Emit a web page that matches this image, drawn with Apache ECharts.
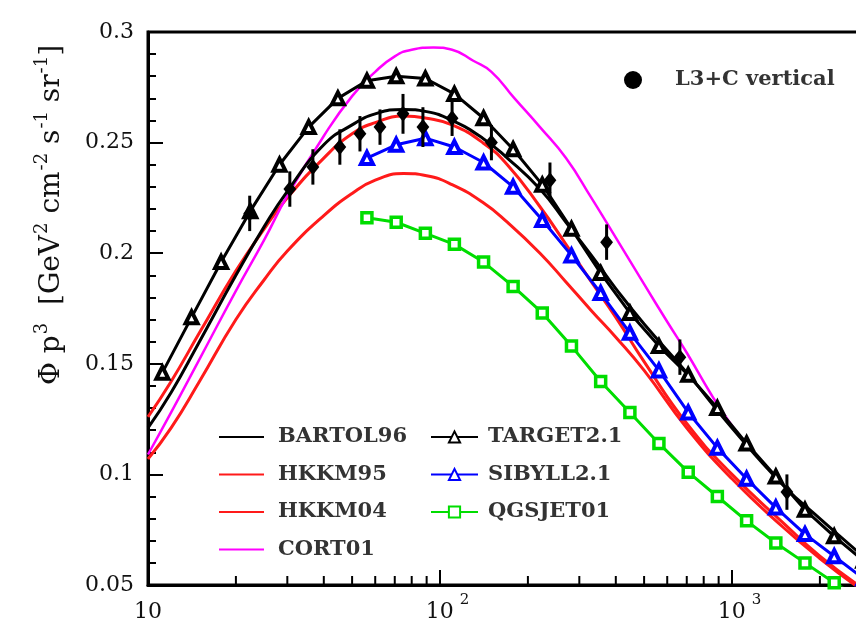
<!DOCTYPE html>
<html>
<head>
<meta charset="utf-8">
<script src="https://cdn.jsdelivr.net/npm/echarts@6/dist/echarts.min.js"></script>
<style>
  html, body { margin: 0; padding: 0; background: #fff; }
  #chart { width: 856px; height: 641px; }
</style>
</head>
<body>
<div id="chart"></div>
<script>
// Vertical muon flux times p^3 versus momentum: model predictions and L3+C data.

// Momentum (GeV) of the calculations sampled on a smooth grid
const pSmooth  = [10, 12, 15, 20, 25, 30, 40, 50, 60, 75, 90, 110, 140, 170, 220, 270, 330, 400, 500, 700, 1000, 1500, 2000, 2700];
const bartol96 = [0.121, 0.137, 0.160, 0.190, 0.212, 0.228, 0.249, 0.258, 0.263, 0.265, 0.264, 0.260, 0.252, 0.243, 0.229, 0.214, 0.199, 0.184, 0.168, 0.146, 0.121, 0.095, 0.080, 0.065];
const hkkm95   = [0.126, 0.142, 0.164, 0.192, 0.211, 0.225, 0.243, 0.254, 0.259, 0.262, 0.261, 0.258, 0.250, 0.240, 0.221, 0.204, 0.187, 0.171, 0.151, 0.123, 0.100, 0.078, 0.063, 0.050];
const hkkm04   = [0.107, 0.121, 0.142, 0.170, 0.188, 0.201, 0.217, 0.227, 0.233, 0.236, 0.235, 0.231, 0.223, 0.214, 0.200, 0.187, 0.174, 0.162, 0.147, 0.121, 0.098, 0.076, 0.062, 0.049];
const pCort    = [10, 12, 15, 20, 25, 30, 40, 50, 60, 70, 80, 95, 110, 130, 150, 180, 220, 270, 330, 400, 500, 600, 700, 850, 1000, 1150];
const cort01   = [0.109, 0.128, 0.152, 0.183, 0.206, 0.226, 0.253, 0.271, 0.282, 0.289, 0.292, 0.293, 0.292, 0.287, 0.282, 0.270, 0.257, 0.243, 0.225, 0.207, 0.186, 0.169, 0.155, 0.136, 0.122, 0.112];

// Monte Carlo points (markers)
const pTarget  = [11.2, 14.1, 17.8, 22.4, 28.2, 35.5, 44.7, 56.2, 70.8, 89.1, 112, 141, 178, 224, 282, 355, 447, 562, 708, 891, 1122, 1413, 1778, 2239, 2818];
const target21 = [0.146, 0.171, 0.196, 0.219, 0.240, 0.257, 0.270, 0.278, 0.280, 0.279, 0.272, 0.261, 0.247, 0.231, 0.211, 0.191, 0.173, 0.158, 0.145, 0.130, 0.114, 0.099, 0.084, 0.072, 0.061];
const pMC      = [56.2, 70.8, 89.1, 112, 141, 178, 224, 282, 355, 447, 562, 708, 891, 1122, 1413, 1778, 2239, 2818];
const sibyll21 = [0.243, 0.249, 0.252, 0.248, 0.241, 0.230, 0.215, 0.199, 0.182, 0.164, 0.147, 0.128, 0.112, 0.098, 0.085, 0.073, 0.063, 0.053];
const qgsjet01 = [0.216, 0.214, 0.209, 0.204, 0.196, 0.185, 0.173, 0.158, 0.142, 0.128, 0.114, 0.101, 0.090, 0.079, 0.069, 0.060, 0.051, 0.043];

// L3+C vertical measurement: momentum, flux*p^3, error
const pData    = [22.3, 30.6, 36.7, 45.4, 53.2, 62.3, 74.7, 87.4, 110, 150, 238, 372, 663, 1542];
const fluxData = [0.218, 0.229, 0.239, 0.248, 0.254, 0.257, 0.263, 0.257, 0.261, 0.250, 0.233, 0.205, 0.153, 0.092];
const errData  = [0.008, 0.008, 0.008, 0.008, 0.008, 0.008, 0.009, 0.009, 0.008, 0.008, 0.008, 0.008, 0.008, 0.008];

// Axis ticks
const xMajor = [10, 100, 1000];
const xMinor = [20, 30, 40, 50, 60, 70, 80, 90, 200, 300, 400, 500, 600, 700, 800, 900, 2000, 3000];
const yMin = 0.05, yMax = 0.3, yStep = 0.05;

const FONT = '"DejaVu Serif", "Liberation Serif", serif';
const zip = (xs, ys) => xs.map((x, i) => [x, ys[i]]);

function lineSeries(name, xs, ys, color, extra) {
  return Object.assign({
    name, type: 'line', data: zip(xs, ys),
    symbol: 'none', smooth: true, clip: true,
    lineStyle: { color, width: 3 },
    itemStyle: { color },
    emphasis: { disabled: true }, z: 3
  }, extra || {});
}

const plainItem = name => ({ name, itemStyle: { opacity: 0 } });
const legendText = { fontFamily: FONT, fontSize: 21, fontWeight: 'bold', color: '#333', lineHeight: 22 };

const chart = echarts.init(document.getElementById('chart'), null, { renderer: 'canvas' });

const option = {
  animation: false,
  backgroundColor: '#ffffff',
  // the frame runs past the right edge of the canvas
  grid: { left: 148, top: 32, width: 730, bottom: 56, outerBoundsMode: 'none', containLabel: false,
          show: true, borderColor: '#000', borderWidth: 3 },
  xAxis: {
    type: 'log', logBase: 10, min: 10, max: 3162.28,
    axisLine: { lineStyle: { color: '#000', width: 3 } },
    axisTick: { inside: true, length: 15, lineStyle: { color: '#000', width: 2 } },
    splitLine: { show: false },
    axisLabel: {
      margin: 8, color: '#111', fontFamily: FONT, fontSize: 22,
      formatter: v => {
        if (!xMajor.includes(Math.round(v))) return '';
        const e = Math.round(Math.log10(v));
        return e === 1 ? '{b|10}' : '{p| }{b|10}{s|' + e + '}';
      },
      rich: {
        b: { fontFamily: FONT, fontSize: 22, color: '#111', padding: [14, 0, 0, 0], lineHeight: 24 },
        p: { width: 15, fontSize: 15, lineHeight: 16 },
        s: { fontFamily: FONT, fontSize: 15, color: '#111', verticalAlign: 'top', lineHeight: 16, padding: [0, 0, 0, 6] }
      }
    }
  },
  yAxis: {
    type: 'value', min: yMin, max: yMax, interval: yStep,
    axisLine: { lineStyle: { color: '#000', width: 3 } },
    axisTick: { inside: true, length: 15, lineStyle: { color: '#000', width: 2 } },
    minorTick: { show: true, splitNumber: 5, length: 8, lineStyle: { color: '#000', width: 2 } },
    splitLine: { show: false },
    axisLabel: { margin: 14, color: '#111', fontFamily: FONT, fontSize: 22, formatter: v => String(+v.toFixed(2)) }
  },
  graphic: [{
    type: 'text', x: 47, y: 215, rotation: Math.PI / 2, silent: true,
    style: {
      text: '{t|Φ p}{s|3}{t|  [GeV}{s|2}{t| cm}{s|-2}{t| s}{s|-1}{t| sr}{s|-1}{t|]}',
      align: 'center', verticalAlign: 'middle',
      rich: {
        t: { fontFamily: FONT, fontSize: 28, fill: '#111', lineHeight: 28, padding: [10, 0, 0, 0] },
        s: { fontFamily: FONT, fontSize: 18, fill: '#111', verticalAlign: 'top', lineHeight: 18, padding: [0, 0, 0, 1] }
      }
    }
  }],
  legend: [
    {
      data: ['BARTOL96', 'HKKM95', 'HKKM04', 'CORT01'].map(plainItem),
      orient: 'vertical', left: 218, top: 426, padding: 0,
      itemWidth: 45, itemHeight: 14, itemGap: 15.5,
      selectedMode: false,
      textStyle: Object.assign({}, legendText, { padding: [0, 0, 0, 9] })
    },
    {
      data: ['TARGET2.1', 'SIBYLL2.1', 'QGSJET01'],
      orient: 'vertical', left: 430, top: 426, padding: 0,
      itemWidth: 47, itemHeight: 14, itemGap: 15.5,
      selectedMode: false,
      textStyle: Object.assign({}, legendText, { padding: [0, 0, 0, 5] })
    },
    {
      data: [{ name: 'L3+C vertical', icon: 'circle' }],
      left: 624, top: 69, padding: 0, itemWidth: 18, itemHeight: 18,
      selectedMode: false,
      textStyle: Object.assign({}, legendText, { padding: [0, 0, 0, 28] })
    }
  ],
  series: [
    lineSeries('HKKM04', pSmooth, hkkm04, '#ff1a1a'),
    lineSeries('HKKM95', pSmooth, hkkm95, '#ff1a1a'),
    lineSeries('CORT01', pCort, cort01, '#ff00ff', { lineStyle: { color: '#ff00ff', width: 2.5 } }),
    lineSeries('BARTOL96', pSmooth, bartol96, '#000000'),
    lineSeries('QGSJET01', pMC, qgsjet01, '#00dd00', {
      smooth: false, symbol: 'rect', symbolSize: 10, showSymbol: true,
      itemStyle: { color: '#fff', borderColor: '#00dd00', borderWidth: 3.5 }
    }),
    lineSeries('SIBYLL2.1', pMC, sibyll21, '#0000ff', {
      smooth: false, symbol: 'triangle', symbolSize: 12, showSymbol: true,
      itemStyle: { color: '#fff', borderColor: '#0000ff', borderWidth: 4 }
    }),
    lineSeries('TARGET2.1', pTarget, target21, '#000000', {
      smooth: false, symbol: 'triangle', symbolSize: 12, showSymbol: true,
      itemStyle: { color: '#fff', borderColor: '#000', borderWidth: 4 }
    }),
    {
      // L3+C points with vertical error bars
      name: 'L3+C vertical', type: 'custom', z: 6,
      itemStyle: { color: '#000' },
      data: pData.map((p, i) => [p, fluxData[i], errData[i]]),
      renderItem: (params, api) => {
        const p = api.value(0), f = api.value(1), e = api.value(2);
        const c = api.coord([p, f]);
        const hi = api.coord([p, f + e]);
        const lo = api.coord([p, f - e]);
        const r = 8;
        return {
          type: 'group',
          children: [
            { type: 'line', shape: { x1: c[0], y1: hi[1], x2: c[0], y2: lo[1] }, style: { stroke: '#000', lineWidth: 3 } },
            { type: 'polygon', shape: { points: [[c[0], c[1] - r], [c[0] + r * 0.8, c[1]], [c[0], c[1] + r], [c[0] - r * 0.8, c[1]]] }, style: { fill: '#000' } }
          ]
        };
      }
    },
    {
      // log-axis minor ticks
      type: 'custom', silent: true, z: 7,
      data: xMinor.map(v => [v]),
      renderItem: (params, api) => {
        const pt = api.coord([api.value(0), yMin]);
        return { type: 'line', shape: { x1: pt[0], y1: pt[1], x2: pt[0], y2: pt[1] - 9 }, style: { stroke: '#000', lineWidth: 2 } };
      }
    }
  ]
};

chart.setOption(option);
</script>
</body>
</html>
